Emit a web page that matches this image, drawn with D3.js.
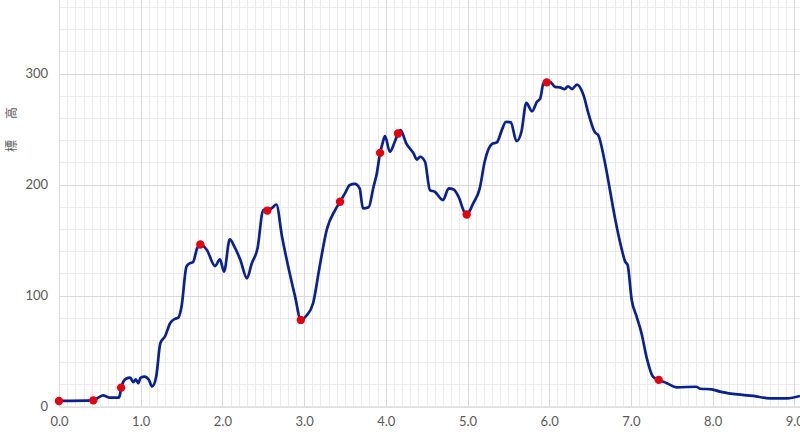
<!DOCTYPE html>
<html><head><meta charset="utf-8">
<script src="https://cdn.jsdelivr.net/npm/d3@7/dist/d3.min.js"></script>
<style>html,body{margin:0;padding:0;background:#fff;overflow:hidden}</style>
</head><body>
<svg id="c" width="800" height="448"></svg>
<script>
const xTicks = [0,1,2,3,4,5,6,7,8,9];
const yTicks = [0,100,200,300];
const distance = [0,0.42,0.48,0.54,0.58,0.62,0.73,0.75,0.76,0.82,0.87,0.91,0.94,0.97,1.0,1.05,1.10,1.14,1.19,1.24,1.30,1.36,1.42,1.46,1.50,1.56,1.60,1.64,1.69,1.73,1.81,1.91,1.97,2.02,2.09,2.15,2.22,2.30,2.36,2.43,2.50,2.55,2.61,2.66,2.73,2.81,2.89,2.96,3.03,3.11,3.19,3.28,3.38,3.44,3.50,3.56,3.62,3.68,3.72,3.79,3.85,3.89,3.93,3.96,3.99,4.05,4.11,4.15,4.18,4.25,4.34,4.38,4.42,4.48,4.54,4.60,4.70,4.77,4.83,4.89,4.97,4.99,5.07,5.15,5.21,5.30,5.36,5.42,5.47,5.53,5.60,5.66,5.72,5.79,5.85,5.89,5.93,5.97,6.01,6.07,6.13,6.19,6.23,6.28,6.34,6.42,6.48,6.56,6.60,6.68,6.74,6.81,6.89,6.93,6.96,7.01,7.07,7.13,7.19,7.27,7.34,7.44,7.56,7.80,7.85,7.99,8.09,8.25,8.50,8.70,8.91,9.07];
const elevation = [5,5.5,8,10,9,8,8,12,17,25,26,22,24.5,21,26,27,24,18,27,57,63.5,75,79,80,90,126,129,130,142.5,146,141,126.5,132.5,121.5,150.5,143.5,132,115.5,129,142.5,177,176.5,179,182,153,124.5,99,78,82,93,126,160,177,184.5,192,199.5,200.5,196.5,178.5,179.5,198,210,228.5,237,243.5,229.5,238.5,246,249,237,228,222.5,225,220.5,195,193.5,186,196.5,195.5,189,174,173,183,196.5,220.5,236.5,238,249,256.5,256,239,247.5,273.5,266,274.5,277.5,291,292,292.5,288,287.5,286,288.5,286,290,280.5,264,247,244.5,220.5,196.5,168,141,130.5,127.5,96,81,66,45,27,24,21,17.3,17.8,16,15.5,13.4,11.3,9.5,7.4,7.4,9.5];
const markerX = [0,0.42,0.76,1.73,2.55,2.96,3.44,3.93,4.15,4.99,5.97,7.34];
const markerY = [5,5.5,17,146,176.5,78,184.5,228.5,246,173,292,24];
const yLabel = "標高";

const svg = d3.select("#c");
const x = d3.scaleLinear().domain([0,10]).range([59, 59+817]);
const y = d3.scaleLinear().domain([0,400]).range([406.5, 406.5-444]);

const g = svg.append("g");
const xMinor = d3.range(0, 100).map(i => i/10);
const yMinor = d3.range(0, 21).map(i => i*20);
g.selectAll(".vmin").data(xMinor).join("line")
  .attr("x1", d=>Math.round(x(d))+0.5).attr("x2", d=>Math.round(x(d))+0.5)
  .attr("y1", y(400)).attr("y2", y(0))
  .attr("stroke", "#ececec").attr("stroke-width", 1);
g.selectAll(".hmin").data(yMinor).join("line")
  .attr("y1", d=>Math.round(y(d))+0.5).attr("y2", d=>Math.round(y(d))+0.5)
  .attr("x1", x(0)).attr("x2", x(10))
  .attr("stroke", "#ececec").attr("stroke-width", 1);
g.selectAll(".vmaj").data(d3.range(0,11)).join("line")
  .attr("x1", d=>Math.round(x(d))+0.5).attr("x2", d=>Math.round(x(d))+0.5)
  .attr("y1", y(400)).attr("y2", y(0))
  .attr("stroke", "#d9d9d9").attr("stroke-width", 1);
g.selectAll(".hmaj").data([100,200,300,400]).join("line")
  .attr("y1", d=>Math.round(y(d))+0.5).attr("y2", d=>Math.round(y(d))+0.5)
  .attr("x1", x(0)).attr("x2", x(10))
  .attr("stroke", "#d9d9d9").attr("stroke-width", 1);

const xAxis = d3.axisBottom(x).tickValues(xTicks).tickFormat(d3.format(".1f")).tickSize(0).tickPadding(10);
const ax = svg.append("g").attr("transform", `translate(0,${y(0)})`).call(xAxis);
ax.select(".domain").attr("stroke", "#d0d0d0");
ax.selectAll("text").attr("fill", "#595959").style("font-family", "Lato, 'Open Sans', sans-serif").style("font-size", "13px");

const yAxis = d3.axisLeft(y).tickValues(yTicks).tickFormat(d3.format("d")).tickSize(0).tickPadding(11);
const ay = svg.append("g").attr("transform", `translate(${x(0)},0)`).call(yAxis);
ay.select(".domain").remove();
ay.selectAll("text").attr("fill", "#595959").style("font-family", "Lato, 'Open Sans', sans-serif").style("font-size", "13px");

svg.append("text").text(yLabel)
  .attr("transform", "translate(16,119) rotate(-90)")
  .attr("text-anchor", "middle")
  .attr("fill", "#595959")
  .style("font-family", "'Noto Sans CJK JP', sans-serif")
  .style("font-size", "12px")
  .style("letter-spacing", "21px");

const pts = distance.map((d,i)=>[d, elevation[i]]);
const line = d3.line().x(d=>x(d[0])).y(d=>y(d[1])).curve(d3.curveMonotoneX);
svg.append("path").datum(pts).attr("d", line)
  .attr("fill", "none").attr("stroke", "#0a2191").attr("stroke-width", 2.7)
  .attr("stroke-linejoin", "round");

svg.selectAll(".m").data(markerX.map((d,i)=>[d, markerY[i]])).join("circle")
  .attr("cx", d=>x(d[0])).attr("cy", d=>y(d[1])).attr("r", 4.2)
  .attr("fill", "#e3000f");
</script>
</body></html>
